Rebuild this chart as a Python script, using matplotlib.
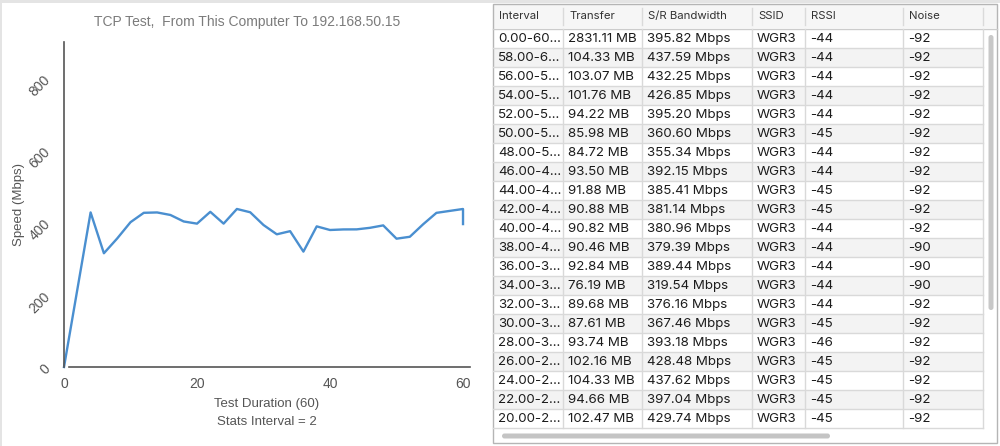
import matplotlib
matplotlib.use("Agg")
import matplotlib.pyplot as plt
from matplotlib.patches import Rectangle, FancyBboxPatch

plt.rcParams["font.family"] = ["Liberation Sans", "DejaVu Sans"]
TABLE_FONT = ["Inter", "DejaVu Sans"]

# chart data: speed (Mbps) at each 2 s step, last point is the 0-60 summary
times = [0, 2, 4, 6, 8, 10, 12, 14, 16, 18, 20, 22, 24, 26, 28, 30, 32, 34, 36,
         38, 40, 42, 44, 46, 48, 50, 52, 54, 56, 58, 60, 60]
speed = [0, 214, 428, 315, 356, 401, 427, 428, 421, 403, 397, 429.74, 397.04,
         437.62, 428.48, 393.18, 367.46, 376.16, 319.54, 389.44, 379.39, 380.96,
         381.14, 385.41, 392.15, 355.34, 360.60, 395.20, 426.85, 432.25, 437.59,
         395.82]
x_ticks = [0, 20, 40, 60]
y_ticks = [0, 200, 400, 600, 800]

# table data
headers = ["Interval", "Transfer", "S/R Bandwidth", "SSID", "RSSI", "Noise"]
intervals = ["0.00-60...", "58.00-6...", "56.00-5...", "54.00-5...", "52.00-5...",
             "50.00-5...", "48.00-5...", "46.00-4...", "44.00-4...", "42.00-4...",
             "40.00-4...", "38.00-4...", "36.00-3...", "34.00-3...", "32.00-3...",
             "30.00-3...", "28.00-3...", "26.00-2...", "24.00-2...", "22.00-2...",
             "20.00-2..."]
transfer_mb = [2831.11, 104.33, 103.07, 101.76, 94.22, 85.98, 84.72, 93.50, 91.88,
               90.88, 90.82, 90.46, 92.84, 76.19, 89.68, 87.61, 93.74, 102.16,
               104.33, 94.66, 102.47]
bandwidth = [395.82, 437.59, 432.25, 426.85, 395.20, 360.60, 355.34, 392.15, 385.41,
             381.14, 380.96, 379.39, 389.44, 319.54, 376.16, 367.46, 393.18, 428.48,
             437.62, 397.04, 429.74]
ssid = ["WGR3"] * 21
rssi = [-44, -44, -44, -44, -44, -45, -44, -44, -45, -45, -44, -44, -44, -44, -44,
        -45, -46, -45, -45, -45, -45]
noise = [-92, -92, -92, -92, -92, -92, -92, -92, -92, -92, -92, -90, -90, -90, -92,
         -92, -92, -92, -92, -92, -92]

W, H = 1000, 446
fig = plt.figure(figsize=(W / 100, H / 100), dpi=100, facecolor="white")

# overlay axes in pixel units for the table and window chrome
tab = fig.add_axes([0, 0, 1, 1])
tab.set_xlim(0, W)
tab.set_ylim(H, 0)
tab.axis("off")
tab.add_patch(Rectangle((0, 0), W, 3, color="#e4e4e4", lw=0))
tab.add_patch(Rectangle((0, 0), 1.5, H, color="#e4e4e4", lw=0))

col_edges = [493, 563, 642, 752, 805, 903, 983]
right_edge, bottom_edge = 997, 443
head_top, head_bot, row_h = 4, 28, 19

tab.add_patch(Rectangle((col_edges[0], head_top), right_edge - col_edges[0],
                        head_bot - head_top, color="#f6f6f6", lw=0))
for j, h in enumerate(headers):
    tab.text(col_edges[j] + 6, 16, h, fontsize=8.2, color="#333333", va="center",
             family=TABLE_FONT)
for e in col_edges[1:]:
    tab.plot([e, e], [8, 25], color="#dadada", lw=1)
tab.plot([col_edges[0], right_edge], [head_bot + 0.5, head_bot + 0.5], color="#cccccc", lw=1)

rows = list(zip(intervals, [f"{v:.2f} MB" for v in transfer_mb],
                [f"{v:.2f} Mbps" for v in bandwidth], ssid,
                [str(v) for v in rssi], [str(v) for v in noise]))
row0 = head_bot + 1
for i, row in enumerate(rows):
    top = row0 + i * row_h
    if i % 2 == 1:
        tab.add_patch(Rectangle((col_edges[0], top), col_edges[-1] - col_edges[0],
                                row_h, color="#f3f3f3", lw=0))
    tab.plot([col_edges[0], col_edges[-1]], [top + row_h, top + row_h],
             color="#d9d9d9", lw=1)
    for j, val in enumerate(row):
        tab.text(col_edges[j] + 5, top + row_h / 2 + 0.5, val, fontsize=9.6,
                 color="#1c1c1c", va="center", family=TABLE_FONT)
table_bot = row0 + len(rows) * row_h
for e in col_edges[1:]:
    tab.plot([e, e], [row0, table_bot], color="#d9d9d9", lw=1)

# scrollbars
tab.add_patch(FancyBboxPatch((502, 433.5), 328, 5, boxstyle="round,pad=0,rounding_size=2.5",
                             fc="#c4c4c4", ec="none"))
tab.add_patch(FancyBboxPatch((988.5, 35), 5, 275, boxstyle="round,pad=0,rounding_size=2.5",
                             fc="#c8c8c8", ec="none"))
tab.add_patch(Rectangle((col_edges[0], 3.5), right_edge - col_edges[0],
                        bottom_edge - 3.5, fill=False, ec="#b5b5b5", lw=1))

# line chart
ax = fig.add_axes([64 / W, (H - 367) / H, (470 - 64) / W, (367 - 42) / H])
ax.plot(times, speed, color="#4a8fd0", lw=1.7, clip_on=False)
ax.set_xlim(0, 61.05)
ax.set_ylim(0, 900)
ax.set_xticks(x_ticks)
ax.set_yticks(y_ticks)
for s in ("top", "right"):
    ax.spines[s].set_visible(False)
ax.spines["left"].set_color("#555555")
ax.spines["left"].set_linewidth(1.2)
ax.spines["bottom"].set_color("#555555")
ax.spines["bottom"].set_linewidth(1.2)
ax.spines["bottom"].set_bounds(0.75, 61.05)
ax.tick_params(length=0, colors="#555555", labelsize=10)
ax.tick_params(axis="x", pad=7)
ax.tick_params(axis="y", pad=8)
for lbl in ax.get_yticklabels():
    lbl.set_rotation(45)

fig.text(247 / W, 1 - 22 / H, "TCP Test,  From This Computer To 192.168.50.15",
         ha="center", va="center", fontsize=10, color="#7b7b7b")
fig.text(19 / W, 1 - 205 / H, "Speed (Mbps)", rotation=90, ha="center", va="center",
         fontsize=9.5, color="#555555")
fig.text(267 / W, 1 - 404 / H, "Test Duration (60)", ha="center", va="center",
         fontsize=9.5, color="#555555")
fig.text(267 / W, 1 - 422 / H, "Stats Interval = 2", ha="center", va="center",
         fontsize=9.5, color="#555555")

fig.savefig("out.png", dpi=100, facecolor="white")
